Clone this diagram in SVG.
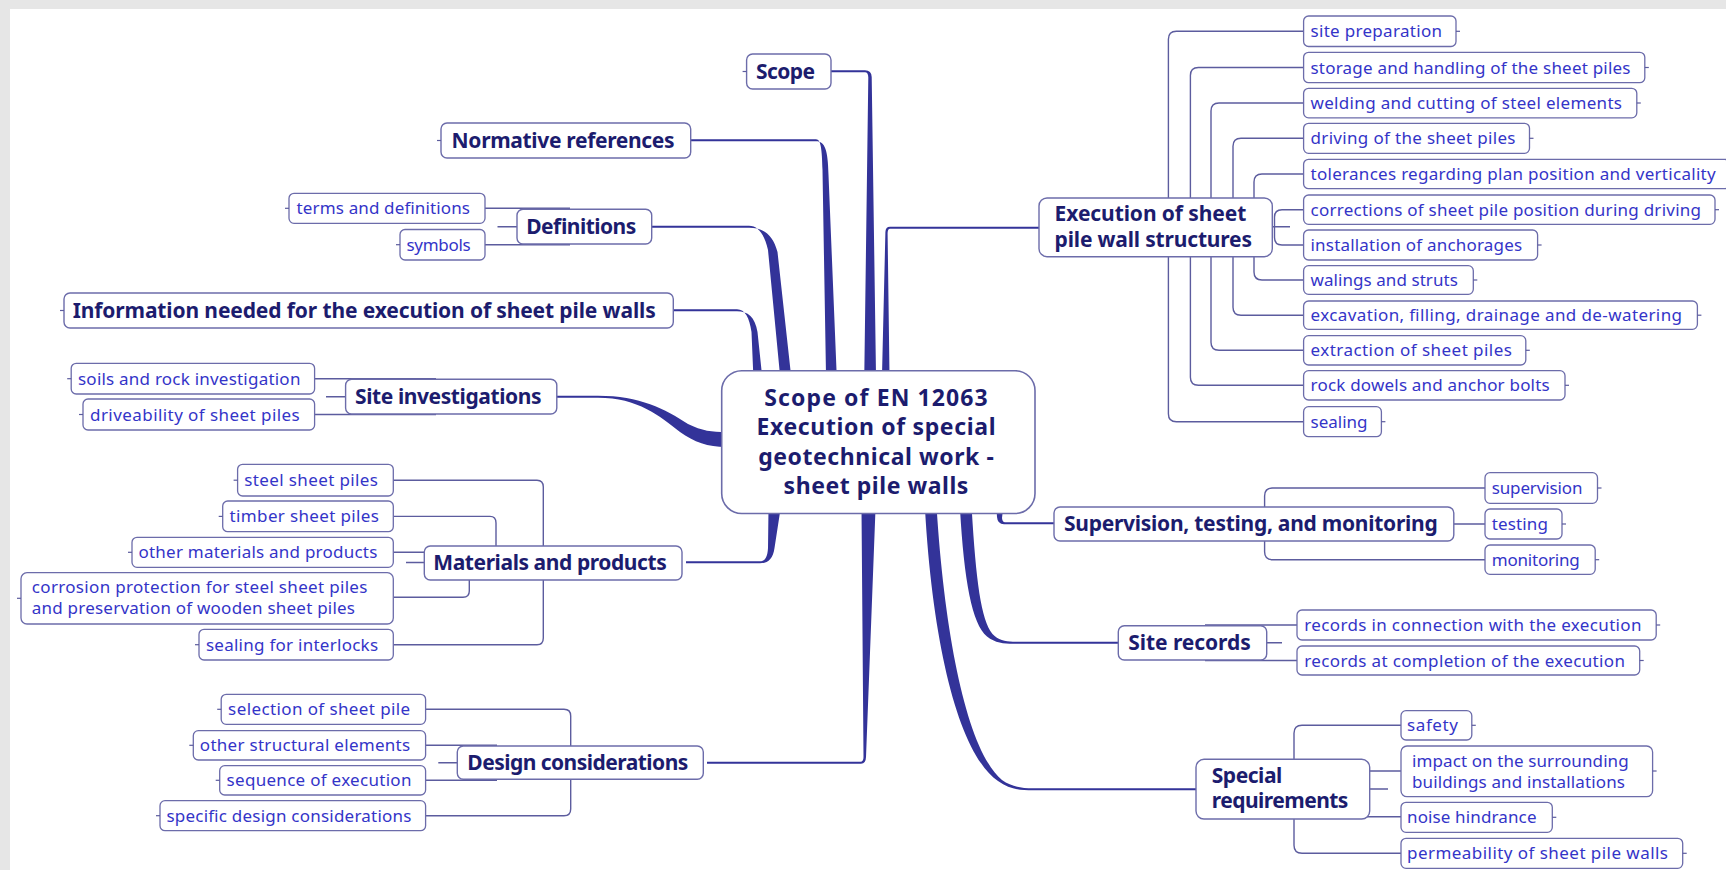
<svg xmlns="http://www.w3.org/2000/svg" width="1726" height="870" viewBox="0 0 1726 870">
<style>
.mb{fill:#fff;stroke:#6c6caa;stroke-width:1.4}
.cb{fill:#fff;stroke:#6c6caa;stroke-width:1.3}
.xb{fill:#fff;stroke:#6c6caa;stroke-width:1.6}
.mt{font-family:"Noto Sans","Open Sans","DejaVu Sans",sans-serif;font-weight:bold;font-size:21px;fill:#1c1c6e}
.xt{font-family:"Noto Sans","Open Sans","DejaVu Sans",sans-serif;font-weight:bold;font-size:23px;fill:#1c1c6e;text-anchor:middle}
.ct{font-family:"Noto Sans","Open Sans","DejaVu Sans",sans-serif;font-size:17px;fill:#3434c8}
.ln{fill:none;stroke:#5c5c9e;stroke-width:1.4}
.tk{fill:none;stroke:#5c5c9e;stroke-width:1.2}
.th{fill:#333399}
</style>

<!-- frame -->
<rect x="0" y="0" width="1726" height="870" fill="#e6e6e6"/>
<rect x="10" y="9" width="1716" height="861" fill="#ffffff"/>

<!-- connectors -->
<g id="connectors">
  <!-- tapered main branches from the central topic -->
  <path class="th" d="M826,70.3 H865 Q871.5,70.3 871.7,77 L876,375 H864.3 L868.3,77.5 Q868.2,72.3 865,72.3 H826 Z"/>
  <path class="th" d="M686,139.3 H816 C821,139.3 822,150 822.5,170 L826,375 H836.7 L828.5,175 C828,150 825,141.3 816,141.3 H686 Z"/>
  <path class="th" d="M648,225.7 H749 C759,225.7 765,236 768,250 L780,375 H791 L777.5,252 C773,235 764,227.7 749,227.7 H648 Z"/>
  <path class="th" d="M669,309.3 H737 C745,309.3 749.5,318 751.5,332 L753.3,375 H762 L757.5,332 C755,317 748,311.3 737,311.3 H669 Z"/>
  <path class="th" d="M552,395.7 H598 C640,395.7 665,409 688,424 C702,431 712,432 726,432 V447 C708,447 694,442 680,432 C660,416 638,397.7 598,397.7 H552 Z"/>
  <path class="th" d="M686,561.3 H760 C765,561.3 767.5,557 768,548 L768.5,509 H780.5 L774.5,548 C773,559 768,563.3 760,563.3 H686 Z"/>
  <path class="th" d="M707,761.7 H860.5 Q863.5,761.7 863.5,757 L861.5,509 H875.5 L866,757 Q865.8,763.7 861,763.7 H707 Z"/>
  <path class="th" d="M1044,226.7 H890 Q885.6,226.7 885.4,232 L882,375 H889.5 L887.6,233 Q887.8,228.7 890,228.7 H1044 Z"/>
  <path class="th" d="M996.5,509 L997,517 Q997.5,524.3 1004,524.3 H1058 V522.3 H1005 Q1002.5,522.3 1002,518 L1003,509 Z"/>
  <path class="th" d="M960,509 C964,580 972,624 987,636.5 C995,643 1004,643.7 1013,643.7 H1122 V641.7 H1013 C1005,641.7 998,640 992.5,634 C981,620 976,580 971.7,509 Z"/>
  <path class="th" d="M925,509 C933,650 960,755 998,781 C1010,789.5 1020,790.3 1033,790.3 H1200 V788.3 H1033 C1021,788.3 1011,786.5 1002,780 C968,752 945,640 936.7,509 Z"/>

  <!-- Definitions -->
  <path class="ln" d="M485,208.3 H570 M485,244.7 H570 M497.5,226.7 H517"/>
  <!-- Site investigations -->
  <path class="ln" d="M314.6,378.7 H436 M314.6,414.5 H436 M326,396.7 H345.6"/>
  <!-- Materials and products -->
  <path class="ln" d="M393.3,480.2 H537 Q543.3,480.2 543.3,487 V638 Q543.3,644.7 537,644.7 H393.3"/>
  <path class="ln" d="M393.3,516.4 H490 Q496,516.4 496,523 V546 M393.3,552.3 H430 M393.3,597.3 H463 Q469.3,597.3 469.3,591 V580 M406,562.5 H424.3"/>
  <!-- Design considerations -->
  <path class="ln" d="M425.6,709.3 H564 Q570.7,709.3 570.7,716 V809 Q570.7,815.7 564,815.7 H425.6"/>
  <path class="ln" d="M425.6,745.3 H497 M425.6,780.3 H497 M438.3,762.7 H457.3"/>
  <!-- Execution of sheet pile wall structures -->
  <path class="ln" d="M1303.6,31.3 H1176.4 Q1168.4,31.3 1168.4,39.3 V413.7 Q1168.4,421.7 1176.4,421.7 H1303.6"/>
  <path class="ln" d="M1303.6,67.5 H1198.4 Q1190.4,67.5 1190.4,75.5 V377.3 Q1190.4,385.3 1198.4,385.3 H1303.6"/>
  <path class="ln" d="M1303.6,103 H1219 Q1211,103 1211,111 V342.3 Q1211,350.3 1219,350.3 H1303.6"/>
  <path class="ln" d="M1303.6,138.3 H1241 Q1233,138.3 1233,146.3 V307.2 Q1233,315.2 1241,315.2 H1303.6"/>
  <path class="ln" d="M1303.6,174 H1262 Q1254,174 1254,182 V272 Q1254,280 1262,280 H1303.6"/>
  <path class="ln" d="M1303.6,209.7 H1282 Q1274.5,209.7 1274.5,217 V237.5 Q1274.5,245 1282,245 H1303.6 M1272.3,226.7 H1290"/>
  <!-- Supervision, testing, and monitoring -->
  <path class="ln" d="M1485,488 H1272.6 Q1264.6,488 1264.6,496 V551.7 Q1264.6,559.7 1272.6,559.7 H1485 M1453.8,524 H1485"/>
  <!-- Site records -->
  <path class="ln" d="M1297,625 H1205 M1297,660.5 H1205 M1266.7,642.8 H1282"/>
  <!-- Special requirements -->
  <path class="ln" d="M1401,725.3 H1302 Q1294,725.3 1294,733.3 V845.3 Q1294,853.3 1302,853.3 H1401 M1369.7,771 H1401 M1365,816.7 H1401 M1369.7,789 H1388"/>
</g>

<!-- central topic -->
<g id="central">
  <rect class="xb" x="721.7" y="370.7" width="313.3" height="142.8" rx="20"/>
  <text class="xt" x="876" y="406" textLength="223.5">Scope of EN 12063</text>
  <text class="xt" x="876" y="435" textLength="239">Execution of special</text>
  <text class="xt" x="876" y="464.5" textLength="235.7">geotechnical work -</text>
  <text class="xt" x="876" y="494" textLength="184.8">sheet pile walls</text>
</g>

<!-- main topics -->
<g id="scope">
  <rect class="mb" x="746.6" y="54" width="84.4" height="35" rx="6"/>
  <text class="mt" x="756" y="78.5" textLength="59">Scope</text>
  <path class="tk" d="M742.6,71.5 H746.6"/>
</g>
<g id="normative">
  <rect class="mb" x="441" y="123" width="249.7" height="35" rx="6"/>
  <text class="mt" x="451.6" y="147.5" textLength="223">Normative references</text>
  <path class="tk" d="M437,140.5 H441"/>
</g>
<g id="definitions">
  <rect class="mb" x="517" y="209.3" width="134.7" height="34.7" rx="6"/>
  <text class="mt" x="526.2" y="233.7" textLength="110">Definitions</text>
</g>
<g id="information">
  <rect class="mb" x="64" y="293" width="609.3" height="35" rx="6"/>
  <text class="mt" x="72.7" y="317.5" textLength="583">Information needed for the execution of sheet pile walls</text>
  <path class="tk" d="M60,310.5 H64"/>
</g>
<g id="site-investigations">
  <rect class="mb" x="345.6" y="379.3" width="211.2" height="34.7" rx="6"/>
  <text class="mt" x="355" y="403.7" textLength="186.5">Site investigations</text>
</g>
<g id="materials">
  <rect class="mb" x="424.3" y="546" width="257.7" height="34" rx="6"/>
  <text class="mt" x="433.3" y="570" textLength="233.4">Materials and products</text>
</g>
<g id="design">
  <rect class="mb" x="457.3" y="746" width="246" height="33.3" rx="6"/>
  <text class="mt" x="467.3" y="769.7" textLength="221">Design considerations</text>
</g>
<g id="execution">
  <rect class="mb" x="1039" y="198" width="233.3" height="58.7" rx="8"/>
  <text class="mt" x="1054.6" y="221" textLength="191.7">Execution of sheet</text>
  <text class="mt" x="1054.6" y="247" textLength="197.4">pile wall structures</text>
</g>
<g id="supervision">
  <rect class="mb" x="1054" y="507" width="399.8" height="34" rx="6"/>
  <text class="mt" x="1064" y="531" textLength="373.7">Supervision, testing, and monitoring</text>
</g>
<g id="site-records">
  <rect class="mb" x="1118.3" y="625.7" width="148.4" height="34.3" rx="6"/>
  <text class="mt" x="1128.3" y="649.8" textLength="122.4">Site records</text>
</g>
<g id="special">
  <rect class="mb" x="1196" y="759.3" width="173.7" height="59.7" rx="8"/>
  <text class="mt" x="1211.7" y="783.3" textLength="70.6">Special</text>
  <text class="mt" x="1211.7" y="808.3" textLength="136.7">requirements</text>
</g>

<!-- subtopics, left side -->
<g id="terms">
  <rect class="cb" x="289" y="193.3" width="196" height="30" rx="5"/>
  <text class="ct" x="296.6" y="214.3" textLength="173.4">terms and definitions</text>
  <path class="tk" d="M285,208.3 H289"/>
</g>
<g id="symbols">
  <rect class="cb" x="400" y="229.5" width="85" height="30.5" rx="5"/>
  <text class="ct" x="406.4" y="250.7" textLength="64.3">symbols</text>
  <path class="tk" d="M396,244.7 H400"/>
</g>
<g id="soils">
  <rect class="cb" x="71.2" y="363.3" width="243.4" height="30.7" rx="5"/>
  <text class="ct" x="78" y="384.7" textLength="222.4">soils and rock investigation</text>
  <path class="tk" d="M67.2,378.7 H71.2"/>
</g>
<g id="driveability">
  <rect class="cb" x="83" y="399" width="231.6" height="31" rx="5"/>
  <text class="ct" x="90" y="420.5" textLength="209.7">driveability of sheet piles</text>
  <path class="tk" d="M79,414.5 H83"/>
</g>
<g id="steel">
  <rect class="cb" x="237.6" y="464.3" width="155.7" height="31.7" rx="5"/>
  <text class="ct" x="244.2" y="486.2" textLength="133.8">steel sheet piles</text>
  <path class="tk" d="M233.6,480.2 H237.6"/>
</g>
<g id="timber">
  <rect class="cb" x="222.7" y="501" width="170.6" height="30.7" rx="5"/>
  <text class="ct" x="229.6" y="522.4" textLength="149.3">timber sheet piles</text>
  <path class="tk" d="M218.7,516.4 H222.7"/>
</g>
<g id="other-materials">
  <rect class="cb" x="132" y="537.3" width="261.3" height="30" rx="5"/>
  <text class="ct" x="138.5" y="558.3" textLength="238.8">other materials and products</text>
  <path class="tk" d="M128,552.3 H132"/>
</g>
<g id="corrosion">
  <rect class="cb" x="21" y="572.7" width="372.3" height="51.3" rx="6"/>
  <text class="ct" x="31.8" y="593.3" textLength="335.6">corrosion protection for steel sheet piles</text>
  <text class="ct" x="31.8" y="614.3" textLength="323.2">and preservation of wooden sheet piles</text>
  <path class="tk" d="M17,598.3 H21"/>
</g>
<g id="sealing-interlocks">
  <rect class="cb" x="199" y="629.3" width="194.3" height="30.7" rx="5"/>
  <text class="ct" x="205.9" y="650.7" textLength="172.2">sealing for interlocks</text>
  <path class="tk" d="M195,644.7 H199"/>
</g>
<g id="selection">
  <rect class="cb" x="221.2" y="694.3" width="204.4" height="30" rx="5"/>
  <text class="ct" x="228.1" y="715.3" textLength="182.1">selection of sheet pile</text>
  <path class="tk" d="M217.2,709.3 H221.2"/>
</g>
<g id="other-structural">
  <rect class="cb" x="193.3" y="730.7" width="232.3" height="29.3" rx="5"/>
  <text class="ct" x="199.8" y="751.3" textLength="210.4">other structural elements</text>
  <path class="tk" d="M189.3,745.3 H193.3"/>
</g>
<g id="sequence">
  <rect class="cb" x="219.7" y="765.7" width="205.9" height="29.3" rx="5"/>
  <text class="ct" x="226.6" y="786.3" textLength="184.8">sequence of execution</text>
  <path class="tk" d="M215.7,780.3 H219.7"/>
</g>
<g id="specific-design">
  <rect class="cb" x="160" y="800.7" width="265.6" height="30" rx="5"/>
  <text class="ct" x="166.5" y="821.7" textLength="244.9">specific design considerations</text>
  <path class="tk" d="M156,815.7 H160"/>
</g>

<!-- subtopics, right side -->
<g id="site-preparation">
  <rect class="cb" x="1303.6" y="16" width="152.4" height="30.5" rx="5"/>
  <text class="ct" x="1310.5" y="37.3" textLength="131.5">site preparation</text>
  <path class="tk" d="M1456,31.3 H1460"/>
</g>
<g id="storage">
  <rect class="cb" x="1303.6" y="52.3" width="341.2" height="30.4" rx="5"/>
  <text class="ct" x="1310.5" y="73.5" textLength="320">storage and handling of the sheet piles</text>
  <path class="tk" d="M1644.8,67.5 H1648.8"/>
</g>
<g id="welding">
  <rect class="cb" x="1303.6" y="88.3" width="333.2" height="29.5" rx="5"/>
  <text class="ct" x="1310.5" y="109" textLength="311.5">welding and cutting of steel elements</text>
  <path class="tk" d="M1636.8,103 H1640.8"/>
</g>
<g id="driving">
  <rect class="cb" x="1303.6" y="123.3" width="225.9" height="30" rx="5"/>
  <text class="ct" x="1310.5" y="144.3" textLength="205">driving of the sheet piles</text>
  <path class="tk" d="M1529.5,138.3 H1533.5"/>
</g>
<g id="tolerances">
  <rect class="cb" x="1303.6" y="159.3" width="426" height="29.4" rx="5"/>
  <text class="ct" x="1310.5" y="180" textLength="405.2">tolerances regarding plan position and verticality</text>
</g>
<g id="corrections">
  <rect class="cb" x="1303.6" y="195" width="411.4" height="29.3" rx="5"/>
  <text class="ct" x="1310.5" y="215.7" textLength="390.5">corrections of sheet pile position during driving</text>
  <path class="tk" d="M1715,209.7 H1719"/>
</g>
<g id="installation">
  <rect class="cb" x="1303.6" y="230" width="234" height="30" rx="5"/>
  <text class="ct" x="1310.5" y="251" textLength="211.7">installation of anchorages</text>
  <path class="tk" d="M1537.6,245 H1541.6"/>
</g>
<g id="walings">
  <rect class="cb" x="1303.6" y="265.7" width="169.7" height="28.6" rx="5"/>
  <text class="ct" x="1310.5" y="286" textLength="147.4">walings and struts</text>
  <path class="tk" d="M1473.3,280 H1477.3"/>
</g>
<g id="excavation">
  <rect class="cb" x="1303.6" y="301" width="393.8" height="28.3" rx="5"/>
  <text class="ct" x="1310.5" y="321.2" textLength="371.5">excavation, filling, drainage and de-watering</text>
  <path class="tk" d="M1697.4,315.2 H1701.4"/>
</g>
<g id="extraction">
  <rect class="cb" x="1303.6" y="335.7" width="222.2" height="29.3" rx="5"/>
  <text class="ct" x="1310.5" y="356.3" textLength="201.4">extraction of sheet piles</text>
  <path class="tk" d="M1525.8,350.3 H1529.8"/>
</g>
<g id="rock-dowels">
  <rect class="cb" x="1303.6" y="370.7" width="261.4" height="29.3" rx="5"/>
  <text class="ct" x="1310.5" y="391.3" textLength="239.2">rock dowels and anchor bolts</text>
  <path class="tk" d="M1565,385.3 H1569"/>
</g>
<g id="sealing">
  <rect class="cb" x="1303.6" y="406.7" width="77.8" height="30" rx="5"/>
  <text class="ct" x="1310.5" y="427.7" textLength="57">sealing</text>
  <path class="tk" d="M1381.4,421.7 H1385.4"/>
</g>
<g id="supervision-leaf">
  <rect class="cb" x="1485" y="472.7" width="112.5" height="30.6" rx="5"/>
  <text class="ct" x="1491.7" y="494" textLength="90.7">supervision</text>
  <path class="tk" d="M1597.5,488 H1601.5"/>
</g>
<g id="testing">
  <rect class="cb" x="1485" y="509" width="77" height="30" rx="5"/>
  <text class="ct" x="1491.7" y="530" textLength="56.2">testing</text>
  <path class="tk" d="M1562,524 H1566"/>
</g>
<g id="monitoring">
  <rect class="cb" x="1485" y="545" width="110.2" height="29.3" rx="5"/>
  <text class="ct" x="1491.7" y="565.7" textLength="88.1">monitoring</text>
  <path class="tk" d="M1595.2,559.7 H1599.2"/>
</g>
<g id="records-connection">
  <rect class="cb" x="1297" y="610" width="359.2" height="30" rx="5"/>
  <text class="ct" x="1304.3" y="631" textLength="337.2">records in connection with the execution</text>
  <path class="tk" d="M1656.2,625 H1660.2"/>
</g>
<g id="records-completion">
  <rect class="cb" x="1297" y="646" width="342.7" height="29" rx="5"/>
  <text class="ct" x="1304.3" y="666.5" textLength="320.7">records at completion of the execution</text>
  <path class="tk" d="M1639.7,660.5 H1643.7"/>
</g>
<g id="safety">
  <rect class="cb" x="1401" y="710.7" width="70.8" height="29.3" rx="5"/>
  <text class="ct" x="1407" y="731.3" textLength="50.9">safety</text>
  <path class="tk" d="M1471.8,725.3 H1475.8"/>
</g>
<g id="impact">
  <rect class="cb" x="1401" y="746" width="251.6" height="50.7" rx="6"/>
  <text class="ct" x="1412" y="767" textLength="216.7">impact on the surrounding</text>
  <text class="ct" x="1412" y="787.7" textLength="213">buildings and installations</text>
  <path class="tk" d="M1652.6,771 H1656.6"/>
</g>
<g id="noise">
  <rect class="cb" x="1401" y="802.3" width="151.3" height="30" rx="5"/>
  <text class="ct" x="1407" y="823.3" textLength="129.5">noise hindrance</text>
  <path class="tk" d="M1552.3,817.3 H1556.3"/>
</g>
<g id="permeability">
  <rect class="cb" x="1401" y="838.3" width="281.7" height="30" rx="5"/>
  <text class="ct" x="1407" y="859.3" textLength="261">permeability of sheet pile walls</text>
  <path class="tk" d="M1682.7,853.3 H1686.7"/>
</g>
</svg>
